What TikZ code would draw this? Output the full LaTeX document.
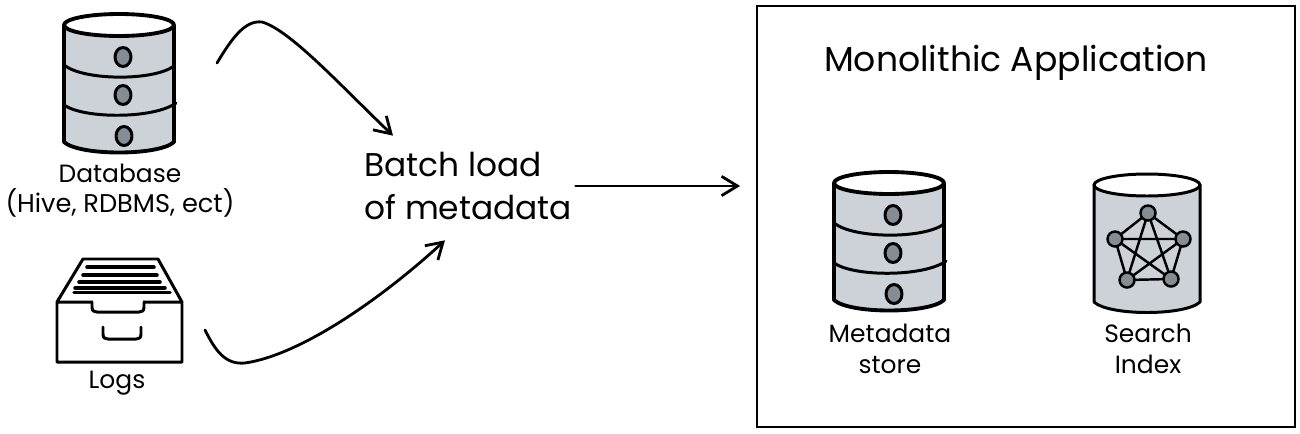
\documentclass[tikz,border=0pt]{standalone}
\usepackage{fontspec}
\setmainfont{Poppins}
\usetikzlibrary{arrows.meta}
\definecolor{cylfill}{HTML}{CDD1D8}
\definecolor{discfill}{HTML}{868C94}
\tikzset{
	titletext/.style={font=\fontsize{19.7}{24}\selectfont,inner sep=0,outer sep=0},
	batchtext/.style={font=\fontsize{18.7}{24.5}\selectfont,align=left,inner sep=2pt,outer sep=0},
	sublabel/.style={font=\fontsize{14.6}{18}\selectfont,inner sep=0,outer sep=0},
	labeltext/.style={font=\fontsize{14.2}{18}\selectfont,align=center,inner sep=0,outer sep=0},
	gnode/.style={draw,circle,fill=discfill,line width=1.4pt,inner sep=0,outer sep=0,minimum size=15*0.569pt},
	gedge/.style={line width=1.4pt},
	flow/.style={line width=1.6pt,-{Straight Barb[length=9pt,width=11pt,line width=1.6pt]},line cap=round},
	sketch/.style={line width=1.7pt,line cap=round,line join=round},
	disc/.pic={\draw[sketch,fill=discfill] (0,0) ellipse (8 and 9.5);},
	cyl/.pic={
		\draw[sketch,fill=cylfill] (-53,0) -- (-53,117) .. controls (-38,131) and (38,131) .. (53,117) -- (53,0) -- cycle;
		\draw[sketch,fill=white] (0,0) ellipse (53 and 11);
	},
	dbstack/.pic={
		\draw[sketch,line width=2.2pt,fill=cylfill] (-55,0) -- (-55,117) .. controls (-40,131) and (40,131) .. (55,117) -- (55,0) -- cycle;
		\draw[sketch,line width=2.2pt,fill=white] (0,0) ellipse (55 and 11);
		\draw[sketch] (-55,40) .. controls (-35,56) and (35,56) .. (55,41);
		\draw[sketch] (-55,80) .. controls (-35,94) and (35,94) .. (57,78);
		\pic at (4,32) {disc};
		\pic at (4,70) {disc};
		\pic at (5,111) {disc};
	},
}
\begin{document}
\begin{tikzpicture}[x=0.02cm,y=-0.02cm]
	\useasboundingbox (0,0) rectangle (1300,433);
	\node[draw,line width=1.6pt,minimum width=538*0.569pt,minimum height=421*0.569pt,inner sep=0,outer sep=0] (frame) at (1026,216.5) {};
	\node[titletext] (title) at (1016,63) {Monolithic Application};
	\pic at (119,25) {dbstack};
	\pic at (889,183) {dbstack};
	\pic at (1147,185) {cyl};
	\node[gnode] (g1) at (1148,213) {};
	\node[gnode] (g2) at (1115,239) {};
	\node[gnode] (g3) at (1183,239) {};
	\node[gnode] (g4) at (1127,280) {};
	\node[gnode] (g5) at (1171,279) {};
	\draw[gedge] (g1) -- (g2) -- (g4) -- (g5) -- (g3) -- (g1);
	\draw[gedge] (g1) -- (g4) -- (g3) -- (g2) -- (g5) -- (g1);
	\node[labeltext] (dblabel) at (120,173) {Database};
	\node[sublabel] (dbsub) at (120,203) {(Hive, RDBMS, ect)};
	\node[labeltext] (logslabel) at (117,383) {Logs};
	\node[labeltext] (metalabel) at (890,349) {Metadata\\store};
	\node[labeltext] (searchlabel) at (1148,349) {Search\\Index};
	\draw[sketch,fill=white] (57,302) -- (57,362) -- (182,362) -- (182,302) -- (158,259) -- (83,259) -- (57,302) -- (182,302);
	\draw[sketch,line width=2pt] (87,267) -- (154,267);
	\draw[sketch,line width=2pt] (83,275) -- (157,275);
	\draw[sketch,line width=2pt] (79,282) -- (160,282);
	\draw[sketch,line width=2pt] (75,288) -- (165,288);
	\draw[sketch,line width=2pt] (74,292.5) -- (170,292.5);
	\draw[white,line width=2.5pt] (93,302) -- (143,302);
	\draw[sketch] (92,302) -- (92,307) .. controls (92,311) and (94,312) .. (97,312) -- (139,312) .. controls (142,312) and (144,311) .. (144,307) -- (144,302);
	\draw[sketch] (103,327) -- (103,334) .. controls (103,338) and (105,339) .. (108,339) -- (136,339) .. controls (139,339) and (141,338) .. (141,334) -- (141,327);
	\node[batchtext,anchor=west] (batch) at (361,186) {Batch load\\of metadata};
	\coordinate (dbout) at (217,63);
	\coordinate (logsout) at (205,330);
	\draw[flow] (dbout) .. controls (232,38) and (245,20) .. (262,22) .. controls (290,30) and (340,85) .. ([shift={(32,-13)}]batch.north west);
	\draw[flow] (logsout) .. controls (215,350) and (225,365) .. (245,363) .. controls (300,355) and (380,300) .. ([shift={(84,17)}]batch.south west);
	\draw[flow,shorten >=17*0.569pt] (batch.east) -- (batch.east -| frame.west);
\end{tikzpicture}
\end{document}
